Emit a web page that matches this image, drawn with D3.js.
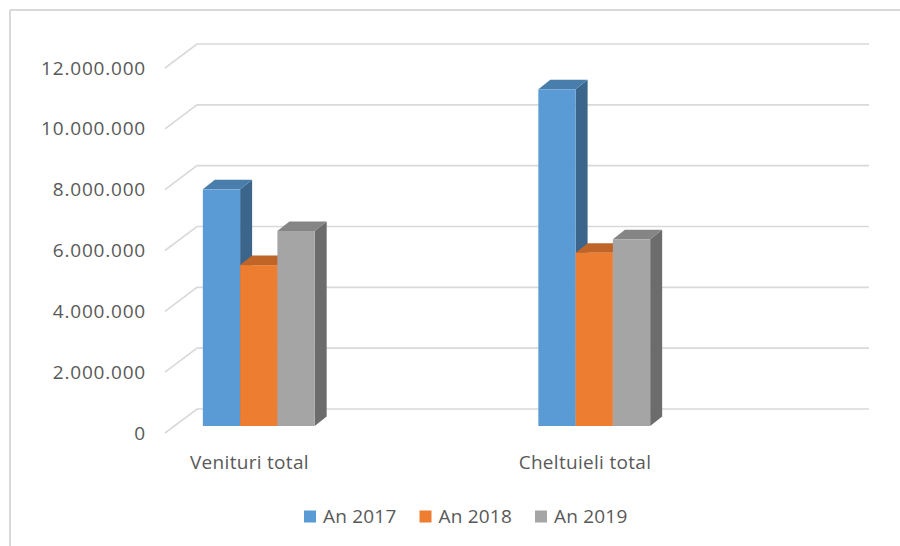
<!DOCTYPE html>
<html>
<head>
<meta charset="utf-8">
<script src="https://cdn.jsdelivr.net/npm/d3@7"></script>
<style>
  html, body { margin: 0; padding: 0; background: #fff; }
  svg { display: block; }
  text { font-family: "Open Sans", "Liberation Sans", sans-serif; fill: #595959; }
</style>
</head>
<body>
<svg id="chart" width="900" height="546"></svg>
<script>
// ---- data ----
const categories = ["Venituri total", "Cheltuieli total"];
const seriesNames = ["An 2017", "An 2018", "An 2019"];
const an2017 = [7780000, 11070000];
const an2018 = [5290000, 5700000];
const an2019 = [6410000, 6140000];
const tickValues = [0, 2000000, 4000000, 6000000, 8000000, 10000000, 12000000];
const colors = ["#5B9BD5", "#ED7D31", "#A5A5A5"];

const seriesValues = [an2017, an2018, an2019];

// ---- layout ----
const svg = d3.select("#chart");
const W = 900, H = 546;

// outer frame (top and left borders)
svg.append("line").attr("x1", 10).attr("y1", 10).attr("x2", W).attr("y2", 10)
  .attr("stroke", "#d9d9d9").attr("stroke-width", 2);
svg.append("line").attr("x1", 10).attr("y1", 10).attr("x2", 10).attr("y2", H)
  .attr("stroke", "#d9d9d9").attr("stroke-width", 2);

// back wall value scale
const yBack = d3.scaleLinear().domain([0, 12000000]).range([409, 44]);
const wallLeft = 197, wallRight = 869;
const floorDX = 32, floorDY = 24; // depth of floor (front edge offset from wall)

// category scale (front face of bars)
const x = d3.scaleBand().domain(categories).range([91, 762])
  .paddingInner(2 / 3).paddingOuter(1 / 3);
const xs = d3.scaleBand().domain(seriesNames).range([0, x.bandwidth()]);

// bar depth geometry
const barFrontDY = 17;   // front face offset below back-wall y
const barDX = 12, barDY = 9.5; // bar depth

// gridlines
const grid = svg.append("g");
tickValues.forEach(v => {
  const yb = yBack(v);
  grid.append("path")
    .attr("d", `M${wallLeft - floorDX},${yb + floorDY}L${wallLeft},${yb}L${wallRight},${yb}`)
    .attr("fill", "none").attr("stroke", "#d9d9d9").attr("stroke-width", 1.6);
});

// tick labels
const fmt = v => d3.format(",")(v).replace(/,/g, ".");
svg.append("g").selectAll("text").data(tickValues).join("text")
  .attr("x", 146)
  .attr("y", d => yBack(d) + floorDY)
  .attr("dy", "0.35em")
  .attr("text-anchor", "end")
  .attr("font-size", 19)
  .attr("letter-spacing", 0.8)
  .text(fmt);

// bars
const bars = [];
categories.forEach((c, ci) => {
  seriesNames.forEach((s, si) => {
    bars.push({ cat: c, series: s, si, value: seriesValues[si][ci] });
  });
});

const barG = svg.append("g");
bars.forEach(b => {
  const x0 = x(b.cat) + xs(b.series);
  const x1 = x0 + xs.bandwidth();
  const yTop = yBack(b.value) + barFrontDY;
  const yBot = yBack(0) + barFrontDY;
  const base = d3.color(colors[b.si]);
  const g = barG.append("g");
  // side face
  g.append("path")
    .attr("d", `M${x1},${yTop}L${x1 + barDX},${yTop - barDY}L${x1 + barDX},${yBot - barDY}L${x1},${yBot}Z`)
    .attr("fill", base.darker(1.2));
  // top face
  g.append("path")
    .attr("d", `M${x0},${yTop}L${x0 + barDX},${yTop - barDY}L${x1 + barDX},${yTop - barDY}L${x1},${yTop}Z`)
    .attr("fill", base.darker(0.6));
  // front face
  g.append("rect")
    .attr("x", x0).attr("y", yTop)
    .attr("width", xs.bandwidth()).attr("height", yBot - yTop)
    .attr("fill", base);
});

// category labels
svg.append("g").selectAll("text").data(categories).join("text")
  .attr("x", d => x(d) + x.bandwidth() / 2 - 9.3)
  .attr("y", 462)
  .attr("dy", "0.35em")
  .attr("text-anchor", "middle")
  .attr("font-size", 19)
  .attr("letter-spacing", 0.3)
  .text(d => d);

// legend
const legend = svg.append("g").selectAll("g").data(seriesNames).join("g")
  .attr("transform", (d, i) => `translate(${304 + i * 115.5},516)`);
legend.append("rect").attr("x", 0).attr("y", -5.5).attr("width", 12).attr("height", 12)
  .attr("fill", (d, i) => colors[i]);
legend.append("text").attr("x", 19).attr("y", 0).attr("dy", "0.35em")
  .attr("font-size", 19).attr("letter-spacing", 0.2).text(d => d);
</script>
</body>
</html>
